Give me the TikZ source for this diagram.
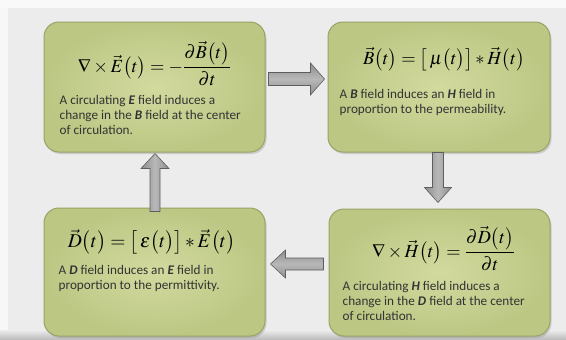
\documentclass[tikz,border=0pt]{standalone}
\usepackage{amsmath}
\usepackage{mathptmx}
\usepackage[no-math]{fontspec}
\setmainfont{Carlito}
\usetikzlibrary{shadows,calc}
\definecolor{bgc}{HTML}{ECECEC}
\definecolor{boxin}{HTML}{D2DA9E}
\definecolor{boxout}{HTML}{BCC784}
\definecolor{boxline}{HTML}{97A466}
\definecolor{arrfill}{HTML}{8E8E8E}
\definecolor{arrlight}{HTML}{B8B8B8}
\definecolor{arrline}{HTML}{5E5E5E}
\tikzset{
  box/.style={rounded corners=15pt, draw=boxline, line width=1pt, inner color=boxin, outer color=boxout,
    drop shadow={shadow xshift=1.5pt, shadow yshift=-2pt, opacity=0.3}},
  eq/.style={inner sep=0pt, font=\fontsize{18.5}{22}\selectfont},
  desc/.style={inner sep=0pt, align=left, anchor=north west, font=\fontsize{13.2}{14.8}\selectfont, text=black!80},
  harrow/.style={draw=arrline, line width=0.6pt, top color=arrfill, bottom color=arrfill, middle color=arrlight},
  varrow/.style={draw=arrline, line width=0.6pt, left color=arrfill, right color=arrfill, middle color=arrlight},
}
\newcommand{\bi}[1]{\textbf{\textit{#1}}}
\begin{document}
\begin{tikzpicture}[x=1pt,y=-1pt]
\useasboundingbox (0,0) rectangle (566,340);
\fill[bgc] (0,0) rectangle (566,340);
\fill[white!70!bgc] (0,0) rectangle (566,8);
\fill[white!60!bgc] (0,8) rectangle (8,332);
\shade[top color=bgc, bottom color=gray!55] (0,330) rectangle (566,340);

\node[box, minimum width=221pt, minimum height=130pt] (b1) at (154.5,87) {};
\node[box, minimum width=222pt, minimum height=130pt] (b2) at (439,87) {};
\node[box, minimum width=221pt, minimum height=128pt] (b3) at (154.5,272) {};
\node[box, minimum width=221pt, minimum height=127pt] (b4) at (439.5,272.5) {};

\node[eq] (e1) at ($(b1.north)+(0,42)$) {$\nabla\times\vec{E}\bigl(t\bigr)=-\dfrac{\partial\vec{B}\bigl(t\bigr)}{\partial t}$};
\node[eq] (e2) at ($(b2.north)+(5,38)$) {$\vec{B}\bigl(t\bigr)=\bigl[\,\mu\bigl(t\bigr)\bigr]*\vec{H}\bigl(t\bigr)$};
\node[eq, font=\fontsize{19.5}{22}\selectfont] (e3) at ($(b3.north)+(-3,34)$) {$\vec{D}\bigl(t\bigr)=\bigl[\,\varepsilon\bigl(t\bigr)\bigr]*\vec{E}\bigl(t\bigr)$};
\node[eq] (e4) at ($(b4.north)+(4,40)$) {$\nabla\times\vec{H}\bigl(t\bigr)=\dfrac{\partial\vec{D}\bigl(t\bigr)}{\partial t}$};

\node[desc] (t1) at ($(b1.north west)+(16,74)$) {A circulating \bi{E} field induces a\\change in the \bi{B} field at the center\\of circulation.};
\node[desc] (t2) at ($(b2.north west)+(12,68)$) {A \bi{B} field induces an \bi{H} field in\\proportion to the permeability.};
\node[desc] (t3) at ($(b3.north west)+(15,58)$) {A \bi{D} field induces an \bi{E} field in\\proportion to the permittivity.};
\node[desc] (t4) at ($(b4.north west)+(14,73)$) {A circulating \bi{H} field induces a\\change in the \bi{D} field at the center\\of circulation.};

% right arrow b1 -> b2
\coordinate (r0) at ($(b1.east)+(3,-8)$);
\draw[harrow] (r0) ++(0,-6.5) -- ++(42,0) -- ++(0,-9.5) -- ++(14,16) -- ++(-14,16) -- ++(0,-9.5) -- ++(-42,0) -- cycle;
% down arrow b2 -> b4
\coordinate (d0) at ($(b2.south)+(-1,0)$);
\draw[varrow] (d0) ++(-5.5,0) -- ++(0,35) -- ++(-8,0) -- ++(13.5,15) -- ++(13.5,-15) -- ++(-8,0) -- ++(0,-35) -- cycle;
% left arrow b4 -> b3
\coordinate (l0) at ($(b4.west)+(-5,-8.5)$);
\draw[harrow] (l0) ++(0,-6) -- ++(-38,0) -- ++(0,-8) -- ++(-15,14) -- ++(15,14) -- ++(0,-8) -- ++(38,0) -- cycle;
% up arrow b3 -> b1
\coordinate (u0) at ($(b3.north)+(0.5,4)$);
\draw[varrow] (u0) ++(-5,0) -- ++(0,-43) -- ++(-9,0) -- ++(14,-15) -- ++(14,15) -- ++(-9,0) -- ++(0,43) -- cycle;
\end{tikzpicture}
\end{document}
